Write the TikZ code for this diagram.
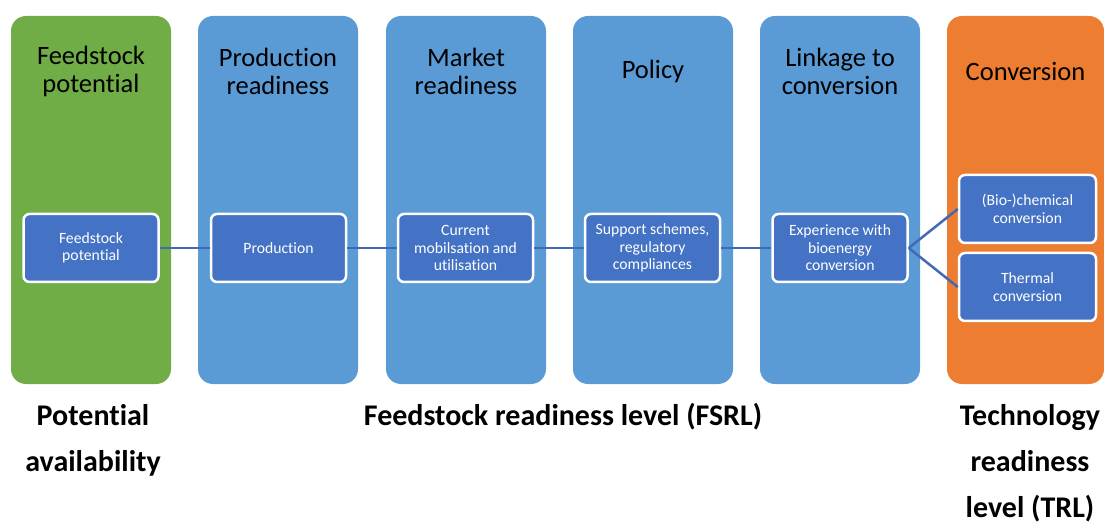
\documentclass[tikz,border=0pt]{standalone}
\usepackage{fontspec}
\setmainfont{Carlito}[Ligatures=NoCommon]
\usepackage{tikz}

\definecolor{colgreen}{HTML}{70AD47}
\definecolor{colblue}{HTML}{5B9BD5}
\definecolor{colorange}{HTML}{ED7D31}
\definecolor{boxblue}{HTML}{4472C4}
\definecolor{linkblue}{HTML}{4169B5}

\begin{document}
\begin{tikzpicture}[x=1pt, y=-1pt,
	column/.style={rounded corners=15pt, minimum width=160pt, minimum height=368pt, inner sep=0pt},
	title/.style={align=center, font=\fontsize{26.5}{28}\selectfont},
	stage/.style={draw=white, line width=2.5pt, rounded corners=6pt, fill=boxblue, text=white,
		minimum width=135pt, minimum height=68pt, inner sep=0pt, align=center,
		font=\fontsize{15.7}{17.5}\selectfont},
	link/.style={draw=linkblue, line width=2.5pt},
	level/.style={align=center, anchor=base, font=\bfseries\fontsize{30}{46}\selectfont}]
	\path (0,0) to (1104,520);

	\node[column, fill=colgreen] (fscol) at (91,200) {};
	\node[column, fill=colblue] (prodcol) at (278,200) {};
	\node[column, fill=colblue] (mktcol) at (466,200) {};
	\node[column, fill=colblue] (polcol) at (653,200) {};
	\node[column, fill=colblue] (linkcol) at (840,200) {};
	\node[column, fill=colorange, minimum width=157pt] (convcol) at (1025.5,200) {};

	\node[title] (fstitle) at (91,71) {Feedstock\\potential};
	\node[title] (prodtitle) at (278,71) {Production\\readiness};
	\node[title] (mkttitle) at (466,71) {Market\\readiness};
	\node[title] (poltitle) at (653,71) {Policy};
	\node[title] (linktitle) at (840,71) {Linkage to\\conversion};
	\node[title] (convtitle) at (1025.5,71) {Conversion};

	\node[stage] (fsbox) at (91,248) {Feedstock\\potential};
	\node[stage] (prodbox) at (278.5,248) {Production};
	\node[stage] (mktbox) at (465.5,248) {Current\\mobilsation and\\utilisation};
	\node[stage] (polbox) at (652.5,248) {Support schemes,\\regulatory\\compliances};
	\node[stage] (expbox) at (840,248) {Experience with\\bioenergy\\conversion};
	\node[stage, minimum width=137pt] (chembox) at (1027.5,209) {(Bio-)chemical\\conversion};
	\node[stage, minimum width=137pt] (thermbox) at (1027.5,287) {Thermal\\conversion};

	\draw[link] (fsbox) -- (prodbox);
	\draw[link] (prodbox) -- (mktbox);
	\draw[link] (mktbox) -- (polbox);
	\draw[link] (polbox) -- (expbox);
	\draw[link] (expbox.east) -- (chembox.west);
	\draw[link] (expbox.east) -- (thermbox.west);

	% base anchor sits on the last line
	\node[level] (avail) at (93,471) {Potential\\availability};
	\node[level] (fsrl) at (563,425) {Feedstock readiness level (FSRL)};
	\node[level] (trl) at (1030,517) {Technology\\readiness\\level (TRL)};
\end{tikzpicture}
\end{document}
